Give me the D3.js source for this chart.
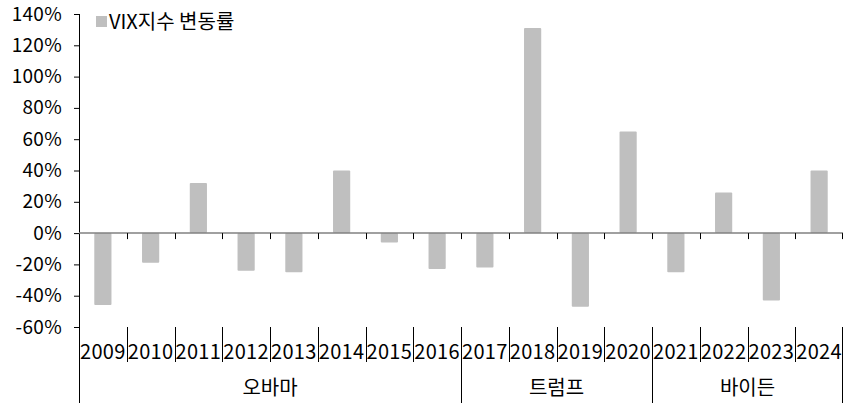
<!DOCTYPE html>
<html><head><meta charset="utf-8">
<script src="https://cdn.jsdelivr.net/npm/d3@7"></script>
<style>body{margin:0;background:#fff}svg{display:block}text{font-family:"Noto Sans CJK KR","Noto Sans",sans-serif;fill:#000}</style>
</head><body>
<script>
const years = ["2009","2010","2011","2012","2013","2014","2015","2016","2017","2018","2019","2020","2021","2022","2023","2024"];
const values = [-46,-19,32,-24,-25,40,-6,-23,-22,131,-47,65,-25,26,-43,40];
const groups = ["오바마","트럼프","바이든"];
const groupSpans = [[0,8],[8,12],[12,16]];
const yTicks = [140,120,100,80,60,40,20,0,-20,-40,-60];
const seriesName = "VIX지수 변동률";

const W=846,H=406;
const svg=d3.select("body").append("svg").attr("width",W).attr("height",H);
const x0=79,x1=843;
const x=d3.scaleBand().domain(years).range([x0,x1]).paddingInner(0).paddingOuter(0);
const y=d3.scaleLinear().domain([-60,140]).range([327,14]);
const fs=20;

// bars
const bw=x.bandwidth()*0.36;
svg.append("g").selectAll("rect").data(years).join("rect")
 .attr("x",(d)=>x(d)+x.bandwidth()/2-bw/2)
 .attr("y",(d,i)=>y(Math.max(0,values[i])))
 .attr("width",bw)
 .attr("height",(d,i)=>Math.abs(y(values[i])-y(0)))
 .attr("rx",1).attr("fill","#BFBFBF");

// y axis
const ya=svg.append("g").attr("transform",`translate(${x0},0)`)
 .call(d3.axisLeft(y).tickValues(yTicks).tickFormat(d=>d+"%").tickSize(5).tickSizeOuter(0));
ya.select(".domain").remove();
ya.selectAll(".tick line").attr("stroke","#000");
ya.selectAll(".tick text").attr("font-size",19).attr("x",-17).attr("letter-spacing","0.3px").attr("font-family",'"Noto Sans CJK KR",sans-serif');
svg.append("line").attr("x1",x0+0.5).attr("x2",x0+0.5).attr("y1",y(140)).attr("y2",403).attr("stroke","#000");

// zero axis
svg.append("line").attr("x1",x0).attr("x2",x1).attr("y1",y(0)).attr("y2",y(0)).attr("stroke","#808080").attr("stroke-width",1.5);
svg.append("g").selectAll("line").data(years.slice(1).concat(["end"])).join("line")
 .attr("x1",d=>d==="end"?x1-0.5:Math.round(x(d))+0.5).attr("x2",d=>d==="end"?x1-0.5:Math.round(x(d))+0.5)
 .attr("y1",y(0)).attr("y2",y(0)+6).attr("stroke","#000");

// year labels
svg.append("g").selectAll("text").data(years).join("text")
 .attr("x",d=>x(d)+x.bandwidth()/2).attr("y",352).attr("dy","0.35em")
 .attr("text-anchor","middle").attr("font-size",fs).attr("letter-spacing","0.3px").text(d=>d);
// separators
const groupStarts=new Set(groupSpans.map(s=>s[0]));
svg.append("g").selectAll("line").data(d3.range(1,years.length+1)).join("line")
 .attr("x1",i=>i===years.length?x1-0.5:Math.round(x(years[i]))+0.5)
 .attr("x2",i=>i===years.length?x1-0.5:Math.round(x(years[i]))+0.5)
 .attr("y1",327)
 .attr("y2",i=>(i===years.length||groupStarts.has(i))?403:362)
 .attr("stroke","#000");
// group labels
svg.append("g").selectAll("text").data(groups).join("text")
 .attr("x",(d,i)=>{const s=groupSpans[i];const a=x(years[s[0]]);const b=s[1]>=years.length?x1:x(years[s[1]]);return (a+b)/2;})
 .attr("y",388).attr("dy","0.35em").attr("text-anchor","middle").attr("font-size",fs).text(d=>d);

// legend
svg.append("rect").attr("x",96).attr("y",16).attr("width",11).attr("height",11).attr("fill","#BFBFBF");
svg.append("text").attr("x",109).attr("y",21.5).attr("dy","0.35em").attr("font-size",fs).text(seriesName);
</script>
</body></html>
